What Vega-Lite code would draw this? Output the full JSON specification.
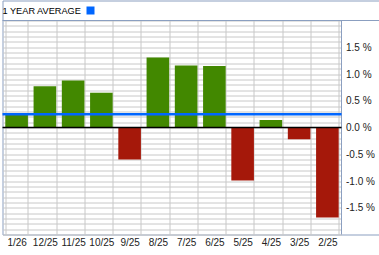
{
  "$schema": "https://vega.github.io/schema/vega-lite/v6.json",
  "padding": {"left": 0.5, "top": 0.5, "right": 0, "bottom": 0},
  "background": "white",
  "width": 378,
  "height": 234,
  "datasets": {
    "months": [
      {"month": "1/26", "change": 0.26},
      {"month": "12/25", "change": 0.77},
      {"month": "11/25", "change": 0.88},
      {"month": "10/25", "change": 0.65},
      {"month": "9/25", "change": -0.60},
      {"month": "8/25", "change": 1.31},
      {"month": "7/25", "change": 1.16},
      {"month": "6/25", "change": 1.15},
      {"month": "5/25", "change": -0.99},
      {"month": "4/25", "change": 0.14},
      {"month": "3/25", "change": -0.22},
      {"month": "2/25", "change": -1.68}
    ],
    "average": [
      {"series": "1 YEAR AVERAGE", "avg": 0.25}
    ]
  },
  "layer": [
    {
      "data": {"name": "months"},
      "mark": {"type": "bar"},
      "encoding": {
        "x": {
          "field": "month",
          "type": "nominal",
          "sort": null,
          "scale": {"range": [0, 339], "paddingInner": 0.2, "paddingOuter": 0.1},
          "axis": {
            "orient": "top",
            "offset": -237,
            "title": null,
            "grid": true,
            "tickBand": "extent",
            "gridColor": "#c8c8c8",
            "gridWidth": 1,
            "ticks": false,
            "domain": false,
            "labelAngle": 0,
            "labelPadding": 0,
            "labelBaseline": "top",
            "labelOverlap": false,
            "labelFont": "Liberation Sans",
            "labelFontSize": 10,
            "labelColor": "#222222"
          }
        },
        "y": {
          "field": "change",
          "type": "quantitative",
          "scale": {"domain": [-2, 2], "nice": false, "range": [234, 20]},
          "axis": {
            "orient": "left",
            "offset": -343,
            "title": null,
            "grid": true,
            "gridColor": "#c8c8c8",
            "gridWidth": 1,
            "tickCount": 40,
            "ticks": false,
            "domain": false,
            "labelPadding": 0,
            "labelAlign": "left",
            "labelOverlap": false,
            "labelFont": "Liberation Sans",
            "labelFontSize": 10,
            "labelColor": "#222222",
            "labelExpr": "abs(datum.value) < 1.95 && abs(datum.value * 2 - round(datum.value * 2)) < 0.001 ? (datum.value < 0 ? '-' : '') + format(abs(datum.value), '.1f') + ' %' : ''"
          }
        },
        "color": {
          "condition": {"test": "datum.change < 0", "value": "#a5180a"},
          "value": "#428800"
        }
      }
    },
    {
      "data": {"values": [{}]},
      "mark": {"type": "rule", "color": "#8b9fc0", "strokeWidth": 1},
      "encoding": {"y": {"datum": 2}}
    },
    {
      "data": {"values": [{}]},
      "mark": {"type": "rule", "color": "#8b9fc0", "strokeWidth": 1},
      "encoding": {
        "x": {"datum": "2/25", "type": "nominal", "bandPosition": 1.125},
        "y": {"datum": -2},
        "y2": {"datum": 2}
      }
    },
    {
      "data": {"values": [{}]},
      "mark": {"type": "rule", "color": "#000000", "strokeWidth": 1.5},
      "encoding": {
        "x": {"datum": "1/26", "type": "nominal", "bandPosition": -0.125},
        "x2": {"datum": "2/25", "bandPosition": 1.125},
        "y": {"datum": 0}
      }
    },
    {
      "data": {"name": "average"},
      "mark": {"type": "rule", "strokeWidth": 2.5},
      "encoding": {
        "x": {"datum": "1/26", "type": "nominal", "bandPosition": -0.125},
        "x2": {"datum": "2/25", "bandPosition": 1.125},
        "y": {"field": "avg", "type": "quantitative"},
        "color": {
          "field": "series",
          "type": "nominal",
          "scale": {"range": ["#0066ff"]},
          "legend": {
            "title": "1 YEAR AVERAGE",
            "orient": "none",
            "legendX": 0,
            "legendY": 5,
            "titleOrient": "left",
            "titlePadding": 4,
            "titleFont": "Liberation Sans",
            "titleFontSize": 9.2,
            "titleFontWeight": "normal",
            "titleColor": "#000000",
            "symbolType": "square",
            "symbolSize": 64,
            "symbolFillColor": "#0066ff",
            "symbolStrokeWidth": 0,
            "labelExpr": "''"
          }
        }
      }
    }
  ],
  "config": {
    "view": {"stroke": "#8b9fc0", "strokeWidth": 1}
  }
}
